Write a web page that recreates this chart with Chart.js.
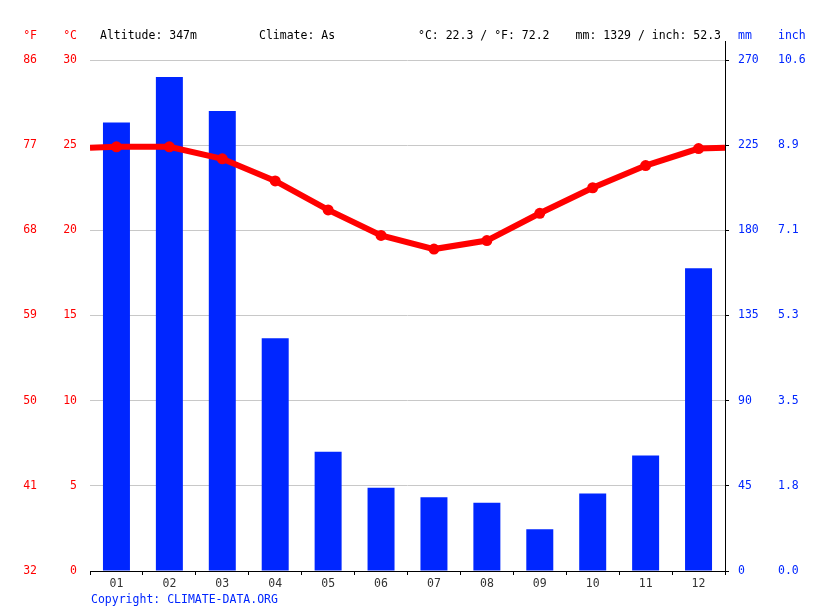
<!DOCTYPE html>
<html>
<head>
<meta charset="utf-8">
<script src="https://cdn.jsdelivr.net/npm/chart.js@4/dist/chart.umd.min.js"></script>
<style>
    html, body { margin: 0; padding: 0; background: #fff; }
    #wrap { width: 815px; height: 611px; }
</style>
</head>
<body>
<div id="wrap"><canvas id="plot-climate"></canvas></div>
<script>
const months = ['01', '02', '03', '04', '05', '06', '07', '08', '09', '10', '11', '12'];
const precipMm = [237, 261, 243, 123, 63, 44, 39, 36, 22, 41, 61, 160];
const tempC = [24.9, 24.9, 24.2, 22.9, 21.2, 19.7, 18.9, 19.4, 21.0, 22.5, 23.8, 24.8];
const headerTexts = ['Altitude: 347m', 'Climate: As', '°C: 22.3 / °F: 72.2', 'mm: 1329 / inch: 52.3'];

const FONT = 'DejaVu Sans Mono';
const RED = '#ff0000';
const BLUE = '#0026ff';

// line wraps round the year to both edges
const wrapTemp = (tempC[0] + tempC[11]) / 2;
const linePoints = [{ x: 0, y: wrapTemp }]
    .concat(tempC.map((t, i) => ({ x: i + 0.5, y: t })))
    .concat([{ x: 12, y: wrapTemp }]);

function fixWidth(w) {
    return function (scale) { scale.width = w; };
}

const extras = {
    id: 'extras',
    afterDraw(chart) {
        const ctx = chart.ctx;
        const a = chart.chartArea;
        ctx.save();
        ctx.font = '11.5px "' + FONT + '"';
        ctx.textBaseline = 'middle';

        // units above the axes
        ctx.fillStyle = RED;
        ctx.textAlign = 'right';
        ctx.fillText('°F', chart.scales.yF.right - 13, 36);
        ctx.fillText('°C', chart.scales.yC.right - 13, 36);
        ctx.fillStyle = BLUE;
        ctx.textAlign = 'left';
        ctx.fillText('mm', chart.scales.yMm.left + 13, 36);
        ctx.fillText('inch', chart.scales.yIn.left + 13, 36);

        // header line
        ctx.fillStyle = '#000';
        ctx.fillText(headerTexts[0], 100, 36);
        ctx.fillText(headerTexts[1], 259, 36);
        ctx.fillText(headerTexts[2], 418, 36);
        ctx.textAlign = 'right';
        ctx.fillText(headerTexts[3], 721, 36);

        // copyright
        ctx.textAlign = 'left';
        ctx.fillStyle = BLUE;
        ctx.fillText('Copyright: CLIMATE-DATA.ORG', 91, 600);

        // right axis line runs up past the plot
        ctx.strokeStyle = '#000';
        ctx.lineWidth = 1;
        ctx.beginPath();
        ctx.moveTo(a.right + 0.5, 41);
        ctx.lineTo(a.right + 0.5, a.top);
        ctx.stroke();
        ctx.restore();
    }
};

new Chart('plot-climate', {
    type: 'bar',
    data: {
        labels: months,
        datasets: [{
            type: 'line',
            data: linePoints,
            xAxisID: 'xl',
            yAxisID: 'yC',
            borderColor: RED,
            backgroundColor: RED,
            borderWidth: 6,
            pointRadius: linePoints.map((p, i) => (i === 0 || i === linePoints.length - 1) ? 0 : 5.5),
            pointBorderWidth: 0,
            tension: 0,
            order: 0
        }, {
            type: 'bar',
            data: precipMm,
            xAxisID: 'x',
            yAxisID: 'yMm',
            backgroundColor: BLUE,
            grouped: false,
            barPercentage: 0.51,
            categoryPercentage: 1,
            order: 1
        }]
    },
    options: {
        responsive: true,
        maintainAspectRatio: false,
        animation: false,
        layout: { padding: { top: 60, left: 0, right: 0, bottom: 0 } },
        plugins: {
            legend: { display: false },
            tooltip: { enabled: false }
        },
        scales: {
            x: {
                type: 'category',
                offset: true,
                afterFit(scale) { scale.height = 40; },
                grid: {
                    offset: true,
                    drawOnChartArea: false,
                    drawTicks: true,
                    tickLength: 4,
                    color: '#000'
                },
                border: { display: true, color: '#000', width: 1 },
                ticks: {
                    padding: 2,
                    color: '#333',
                    font: { family: FONT, size: 11.5 }
                }
            },
            xl: {
                type: 'linear',
                display: false,
                offset: false,
                min: 0,
                max: 12
            },
            yC: {
                position: 'left',
                weight: 0,
                min: 0,
                max: 30,
                afterFit: fixWidth(90 - 50),
                ticks: {
                    stepSize: 5,
                    padding: 13,
                    color: RED,
                    font: { family: FONT, size: 11.5 }
                },
                grid: { color: '#c8c8c8', drawTicks: false },
                border: { display: false }
            },
            yF: {
                position: 'left',
                weight: 1,
                min: 0,
                max: 30,
                afterFit: fixWidth(50),
                ticks: {
                    stepSize: 5,
                    padding: 13,
                    color: RED,
                    font: { family: FONT, size: 11.5 },
                    callback: v => Math.round(v * 9 / 5 + 32)
                },
                grid: { display: false, drawTicks: false },
                border: { display: false }
            },
            yMm: {
                position: 'right',
                weight: 0,
                min: 0,
                max: 270,
                afterFit: fixWidth(40),
                ticks: {
                    stepSize: 45,
                    padding: 9,
                    color: BLUE,
                    font: { family: FONT, size: 11.5 }
                },
                grid: { drawOnChartArea: false, drawTicks: true, tickLength: 4, color: '#000' },
                border: { display: true, color: '#000', width: 1 }
            },
            yIn: {
                position: 'right',
                weight: 1,
                min: 0,
                max: 270,
                afterFit: fixWidth(50),
                ticks: {
                    stepSize: 45,
                    padding: 13,
                    color: BLUE,
                    font: { family: FONT, size: 11.5 },
                    callback: v => (v / 25.4).toFixed(1)
                },
                grid: { display: false, drawTicks: false },
                border: { display: false }
            }
        }
    },
    plugins: [extras]
});
</script>
</body>
</html>
